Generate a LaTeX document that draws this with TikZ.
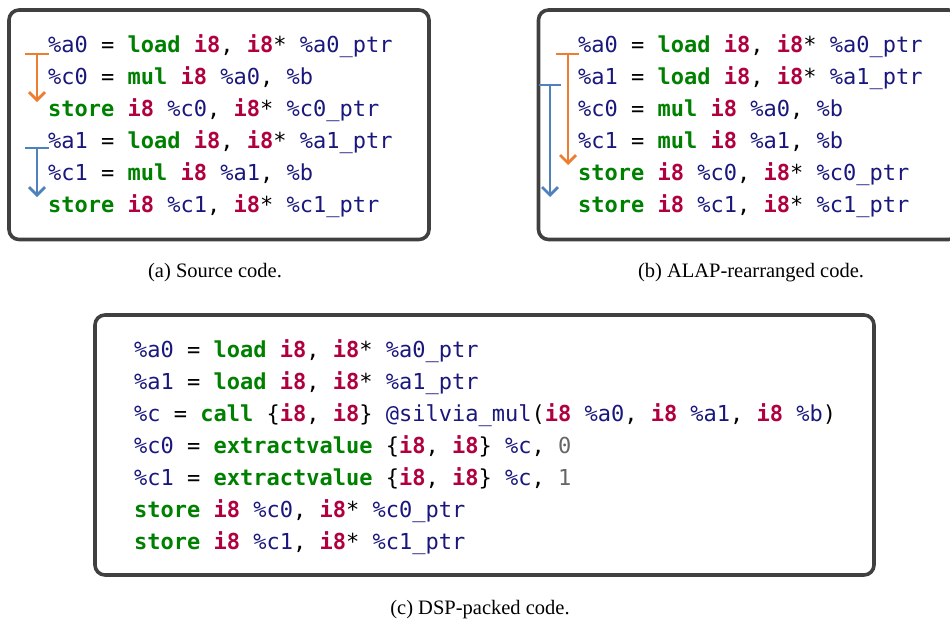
\documentclass[tikz,border=0pt]{standalone}
\usepackage{fontspec}
\setmonofont{DejaVu Sans Mono}
\newfontfamily\capfont{Liberation Serif}
\usetikzlibrary{arrows.meta}
\definecolor{kwc}{HTML}{008000}
\definecolor{tyc}{HTML}{B00040}
\definecolor{vac}{HTML}{19177C}
\definecolor{nmc}{HTML}{666666}
\definecolor{boxc}{HTML}{404040}
\definecolor{orc}{RGB}{237,125,49}
\definecolor{blc}{RGB}{79,129,189}
\newcommand\kw[1]{{\color{kwc}\bfseries #1}}
\newcommand\ty[1]{{\color{tyc}\bfseries #1}}
\newcommand\va[1]{{\color{vac}#1}}
\newcommand\nm[1]{{\color{nmc}#1}}
\tikzset{
  codebox/.style={draw=boxc, line width=3.6pt, rounded corners=10pt},
  code/.style={anchor=base west, inner sep=0pt, font=\ttfamily\fontsize{22}{32}\selectfont},
  captxt/.style={anchor=base, inner sep=0pt, font=\capfont\fontsize{20.5}{24}\selectfont},
  dep/.style={line width=2.7pt, -{Straight Barb[length=8pt,width=16pt]}},
  bar/.style={line width=2.7pt},
}
\begin{document}
\begin{tikzpicture}[x=1pt,y=-1pt]
\clip (0,0) rectangle (950,619);
\useasboundingbox (0,0) rectangle (950,619);
% boxes
\draw[codebox] (9,10) rectangle (429,239.5);
\draw[codebox] (538.5,10) rectangle (958.5,239.5);
\draw[codebox] (95,315) rectangle (874,575);
% (a)
\node[code] (a1) at (48,52) {\va{\%a0} = \kw{load} \ty{i8}, \ty{i8}* \va{\%a0\_ptr}};
\node[code] (a2) at (48,84) {\va{\%c0} = \kw{mul} \ty{i8} \va{\%a0}, \va{\%b}};
\node[code] (a3) at (48,116) {\kw{store} \ty{i8} \va{\%c0}, \ty{i8}* \va{\%c0\_ptr}};
\node[code] (a4) at (48,148) {\va{\%a1} = \kw{load} \ty{i8}, \ty{i8}* \va{\%a1\_ptr}};
\node[code] (a5) at (48,180) {\va{\%c1} = \kw{mul} \ty{i8} \va{\%a1}, \va{\%b}};
\node[code] (a6) at (48,212) {\kw{store} \ty{i8} \va{\%c1}, \ty{i8}* \va{\%c1\_ptr}};
% (b)
\node[code] (b1) at (578,52) {\va{\%a0} = \kw{load} \ty{i8}, \ty{i8}* \va{\%a0\_ptr}};
\node[code] (b2) at (578,84) {\va{\%a1} = \kw{load} \ty{i8}, \ty{i8}* \va{\%a1\_ptr}};
\node[code] (b3) at (578,116) {\va{\%c0} = \kw{mul} \ty{i8} \va{\%a0}, \va{\%b}};
\node[code] (b4) at (578,148) {\va{\%c1} = \kw{mul} \ty{i8} \va{\%a1}, \va{\%b}};
\node[code] (b5) at (578,180) {\kw{store} \ty{i8} \va{\%c0}, \ty{i8}* \va{\%c0\_ptr}};
\node[code] (b6) at (578,212) {\kw{store} \ty{i8} \va{\%c1}, \ty{i8}* \va{\%c1\_ptr}};
% (c)
\node[code] (c1) at (134,357) {\va{\%a0} = \kw{load} \ty{i8}, \ty{i8}* \va{\%a0\_ptr}};
\node[code] (c2) at (134,389) {\va{\%a1} = \kw{load} \ty{i8}, \ty{i8}* \va{\%a1\_ptr}};
\node[code] (c3) at (134,421) {\va{\%c} = \kw{call} \{\ty{i8}, \ty{i8}\} \va{@silvia\_mul}(\ty{i8} \va{\%a0}, \ty{i8} \va{\%a1}, \ty{i8} \va{\%b})};
\node[code] (c4) at (134,453) {\va{\%c0} = \kw{extractvalue} \{\ty{i8}, \ty{i8}\} \va{\%c}, \nm{0}};
\node[code] (c5) at (134,485) {\va{\%c1} = \kw{extractvalue} \{\ty{i8}, \ty{i8}\} \va{\%c}, \nm{1}};
\node[code] (c6) at (134,517) {\kw{store} \ty{i8} \va{\%c0}, \ty{i8}* \va{\%c0\_ptr}};
\node[code] (c7) at (134,549) {\kw{store} \ty{i8} \va{\%c1}, \ty{i8}* \va{\%c1\_ptr}};
% captions
\node[captxt] (capa) at (215,277) {(a) Source code.};
\node[captxt] (capb) at (751,277) {(b) ALAP-rearranged code.};
\node[captxt] (capc) at (480,614) {(c) DSP-packed code.};
% dependency arrows (a)
\coordinate (ao1) at (25,54); \coordinate (ao2) at (49,54);
\coordinate (aos) at (37,54); \coordinate (aoe) at (37,102);
\draw[bar, orc] (ao1) -- (ao2);
\draw[dep, orc] (aos) -- (aoe);
\coordinate (ab1) at (25,148); \coordinate (ab2) at (49,148);
\coordinate (abs) at (37,148); \coordinate (abe) at (37,197);
\draw[bar, blc] (ab1) -- (ab2);
\draw[dep, blc] (abs) -- (abe);
% dependency arrows (b)
\coordinate (bo1) at (556,54); \coordinate (bo2) at (579,54);
\coordinate (bos) at (568,54); \coordinate (boe) at (568,165);
\draw[bar, orc] (bo1) -- (bo2);
\draw[dep, orc] (bos) -- (boe);
\coordinate (bb1) at (539,85); \coordinate (bb2) at (561,85);
\coordinate (bbs) at (550,85); \coordinate (bbe) at (550,197);
\draw[bar, blc] (bb1) -- (bb2);
\draw[dep, blc] (bbs) -- (bbe);
\end{tikzpicture}
\end{document}
